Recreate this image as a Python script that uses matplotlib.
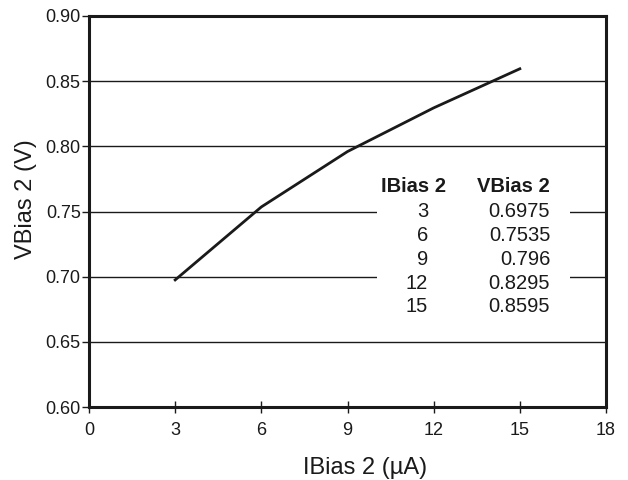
import matplotlib
matplotlib.use('Agg')
import matplotlib.pyplot as plt
from matplotlib.patches import Rectangle

plt.rcParams['font.family'] = ['Liberation Sans', 'DejaVu Sans']

# valores da tabela
ibias = [3, 6, 9, 12, 15]
vbias = [0.6975, 0.7535, 0.796, 0.8295, 0.8595]
vbias_txt = ['0.6975', '0.7535', '0.796', '0.8295', '0.8595']

fig = plt.figure(figsize=(6.28, 4.80), dpi=100)
ax = fig.add_axes([89/628, 73/480, 517/628, 391/480])

ax.plot(ibias, vbias, color='#1a1a1a', lw=2, zorder=3)

ax.set_xlim(0, 18)
ax.set_ylim(0.60, 0.90)
ax.set_xticks(range(0, 19, 3))
ax.set_yticks([0.60, 0.65, 0.70, 0.75, 0.80, 0.85, 0.90])
ax.set_yticklabels(['0.60', '0.65', '0.70', '0.75', '0.80', '0.85', '0.90'])
ax.grid(axis='y', color='#1a1a1a', lw=1)
ax.set_axisbelow(True)

for s in ax.spines.values():
    s.set_linewidth(2.2)
    s.set_color('#1a1a1a')

ax.tick_params(axis='x', direction='inout', length=9, width=1, labelsize=13, pad=6, colors='#1a1a1a')
ax.tick_params(axis='y', direction='out', length=5, width=1, labelsize=13, pad=1, colors='#1a1a1a')

ax.set_xlabel('IBias 2 (µA)', fontsize=17, color='#1a1a1a')
ax.set_ylabel('VBias 2 (V)', fontsize=17, color='#1a1a1a')
ax.xaxis.set_label_coords(0.534, -0.128)
ax.yaxis.set_label_coords(-0.101, 0.532)

# tabela com fundo branco por cima das linhas de grade
ax.add_patch(Rectangle((0.557, 0.222), 0.373, 0.37, transform=ax.transAxes,
                       facecolor='white', edgecolor='none', zorder=2))
ax.text(0.627, 0.563, 'IBias 2', transform=ax.transAxes, ha='center', va='center',
        fontsize=14.5, fontweight='bold', color='#1a1a1a', zorder=4)
ax.text(0.892, 0.563, 'VBias 2', transform=ax.transAxes, ha='right', va='center',
        fontsize=14.5, fontweight='bold', color='#1a1a1a', zorder=4)
for i in range(len(ibias)):
    yy = 0.499 - i * 0.0607
    ax.text(0.656, yy, str(ibias[i]), transform=ax.transAxes, ha='right', va='center',
            fontsize=14.5, color='#1a1a1a', zorder=4)
    ax.text(0.892, yy, vbias_txt[i], transform=ax.transAxes, ha='right', va='center',
            fontsize=14.5, color='#1a1a1a', zorder=4)

plt.savefig('out.png', dpi=100)
